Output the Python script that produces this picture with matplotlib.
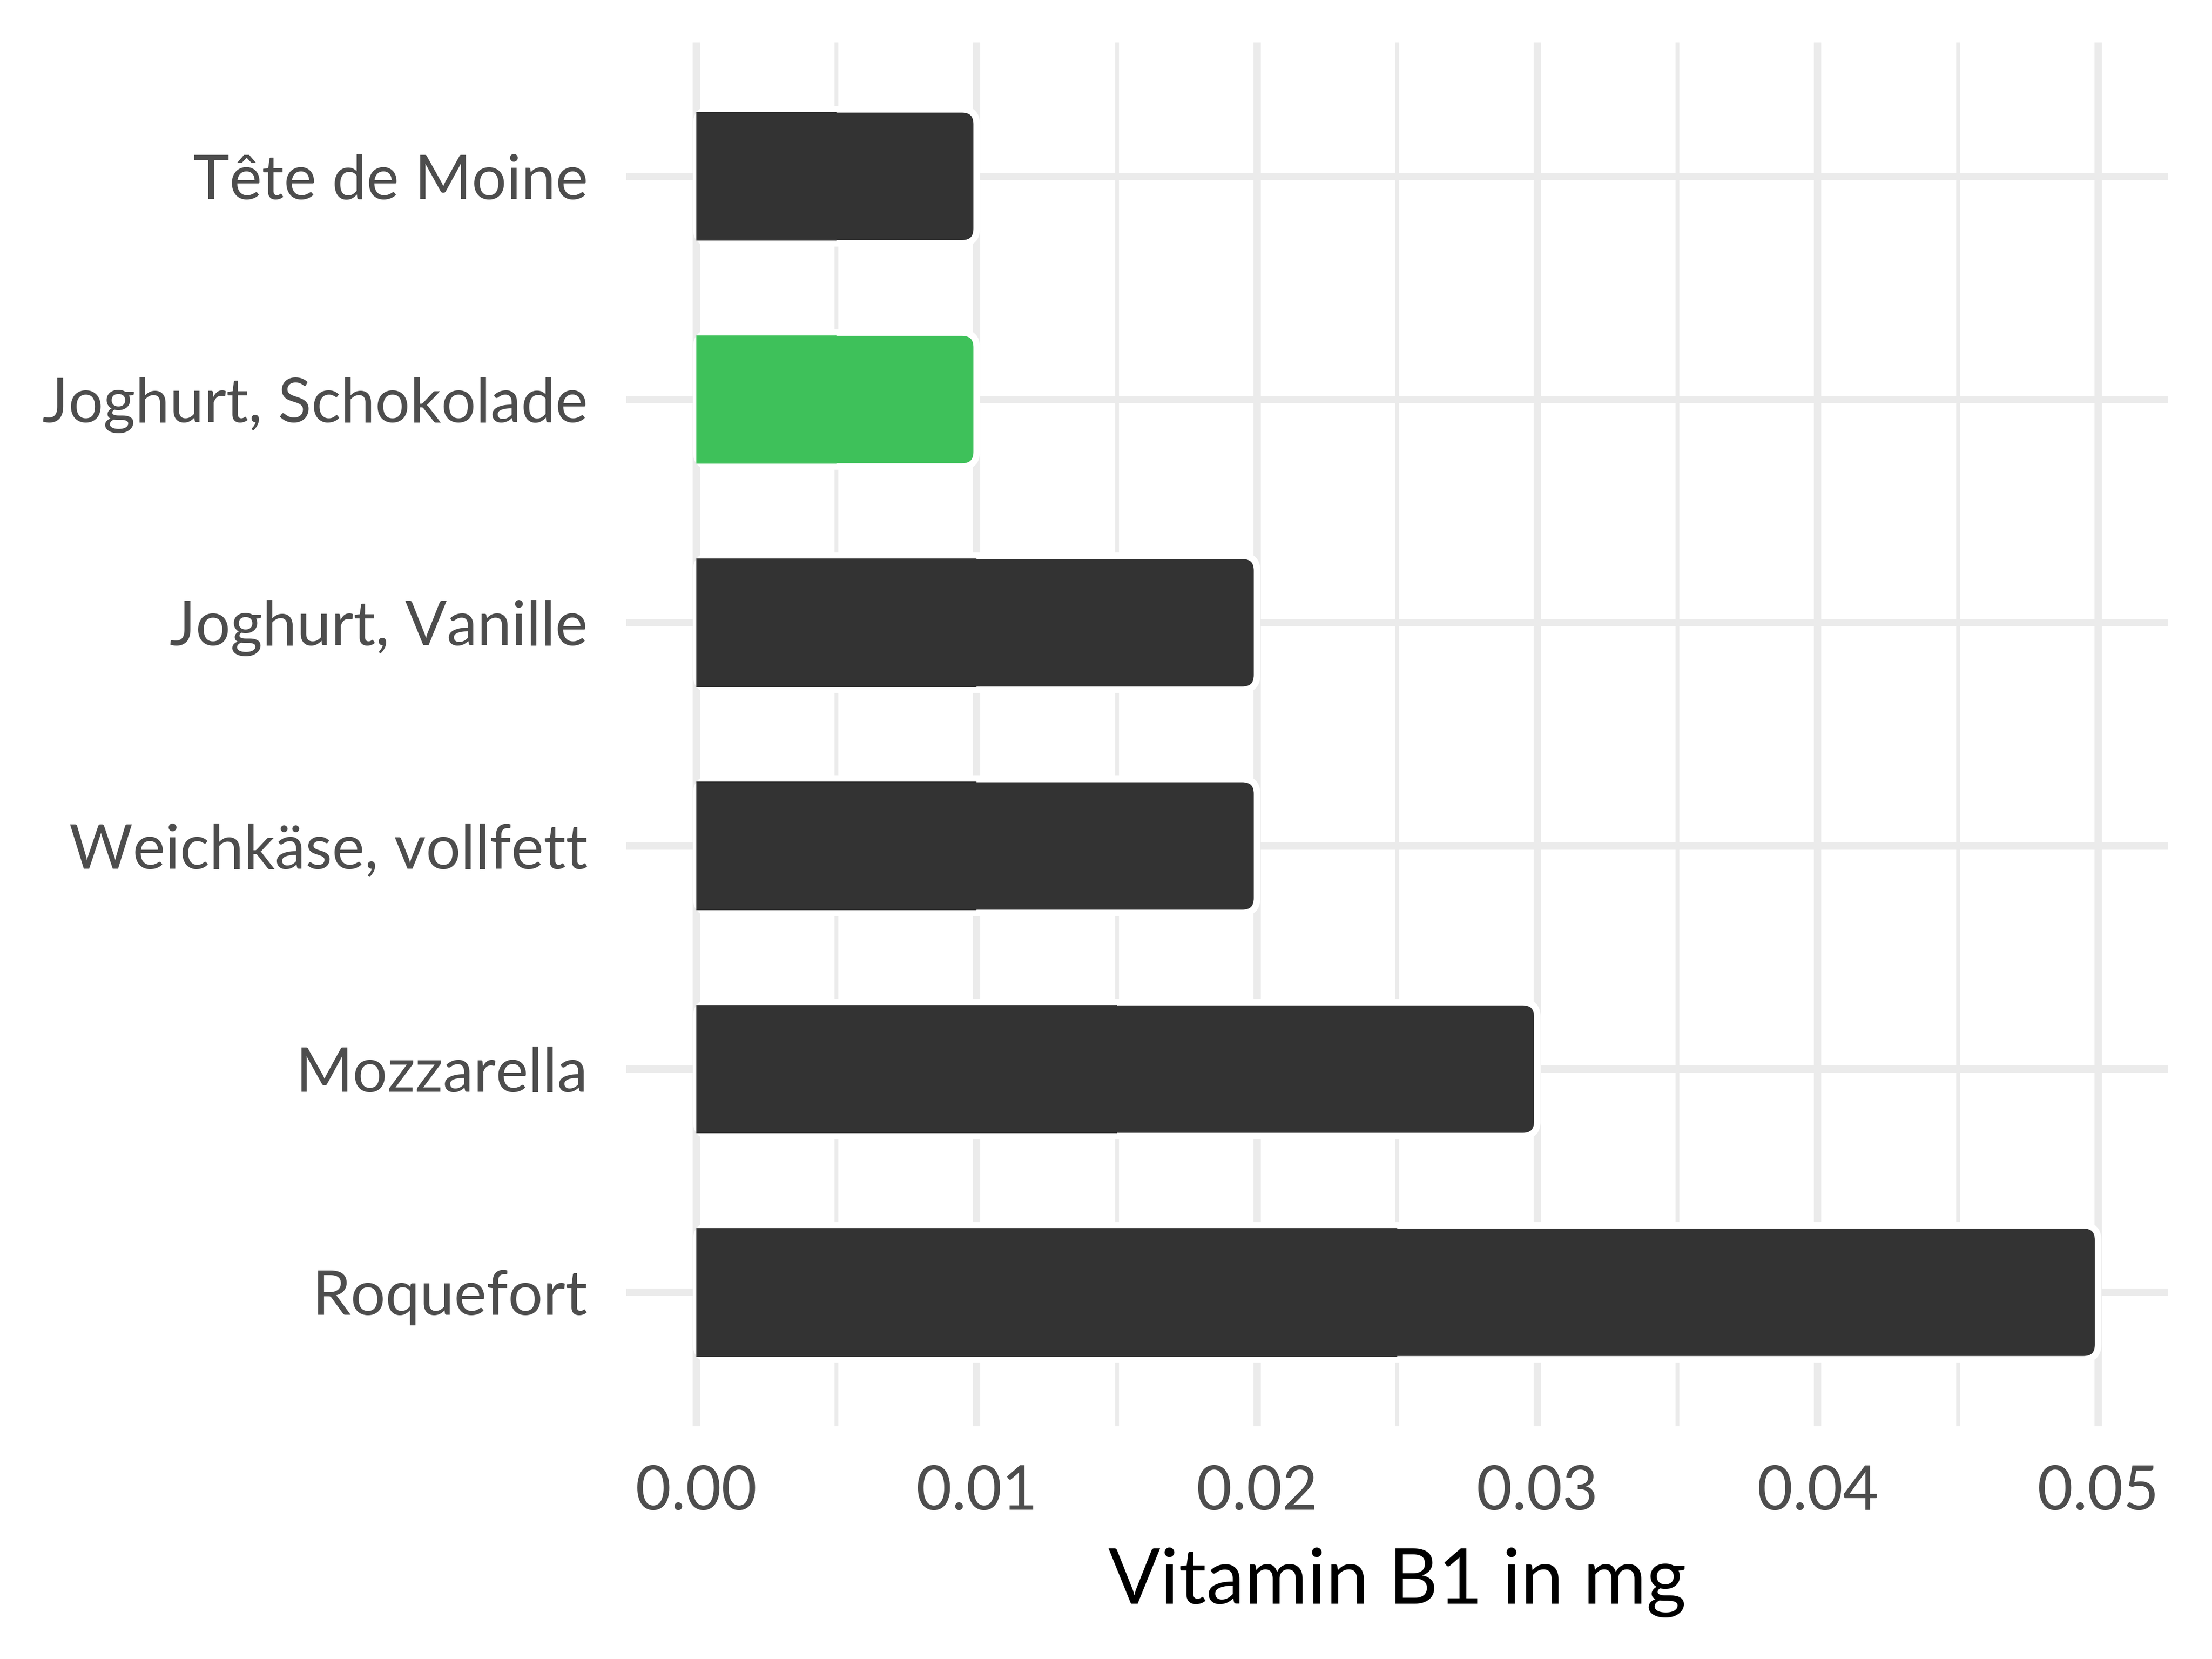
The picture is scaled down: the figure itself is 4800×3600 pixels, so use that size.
import matplotlib
matplotlib.use("Agg")
import matplotlib.pyplot as plt
from matplotlib.patches import FancyBboxPatch, Rectangle

# data, top to bottom as in the chart
foods = ["Tête de Moine", "Joghurt, Schokolade", "Joghurt, Vanille",
         "Weichkäse, vollfett", "Mozzarella", "Roquefort"]
vitamin_b1 = [0.01, 0.01, 0.02, 0.02, 0.03, 0.05]
highlight = "Joghurt, Schokolade"
x_ticks = [0.00, 0.01, 0.02, 0.03, 0.04, 0.05]
x_minor = [0.005, 0.015, 0.025, 0.035, 0.045]

DARK = "#333333"
GREEN = "#3EC15A"
GRID = "#EBEBEB"
FONT = "Lato"

plt.rcParams["font.family"] = [FONT, "DejaVu Sans"]

fig = plt.figure(figsize=(16, 12), dpi=300)
ax = fig.add_axes([0.2831, 0.1403, 0.6971, 0.8341])

xlim = (-0.0025, 0.0525)
ylim = (len(foods) + 0.6 - 1, -0.6)
ax.set_xlim(*xlim)
ax.set_ylim(*ylim)

# aspect so the rounded corners come out circular
fig_w, fig_h = fig.get_size_inches() * fig.dpi
pos = ax.get_position()
px_per_x = pos.width * fig_w / (xlim[1] - xlim[0])
px_per_y = pos.height * fig_h / abs(ylim[1] - ylim[0])
aspect = px_per_x / px_per_y
radius = 32 / px_per_x

bar_h = 0.6
inset = 6 / px_per_y
for i, (name, val) in enumerate(zip(foods, vitamin_b1)):
    col = GREEN if name == highlight else DARK
    box = FancyBboxPatch((0, i - bar_h / 2), val, bar_h,
                         boxstyle=f"round,pad=0,rounding_size={radius}",
                         mutation_aspect=aspect, facecolor=col,
                         edgecolor="white", linewidth=3.4, zorder=3)
    ax.add_patch(box)
    # square off the left end
    ax.add_patch(Rectangle((0, i - bar_h / 2 + inset), val / 2, bar_h - 2 * inset,
                           facecolor=col, edgecolor="none", zorder=3.5))

ax.set_yticks(range(len(foods)))
ax.set_yticklabels(foods)
ax.set_xticks(x_ticks)
ax.set_xticklabels([f"{t:.2f}" for t in x_ticks])
ax.set_xticks(x_minor, minor=True)

ax.grid(True, which="major", color=GRID, linewidth=3.8, zorder=0)
ax.grid(True, which="minor", axis="x", color=GRID, linewidth=2.0, zorder=0)
ax.set_axisbelow(True)

for s in ax.spines.values():
    s.set_visible(False)
ax.tick_params(axis="both", which="both", length=0)
ax.tick_params(axis="y", pad=20, labelsize=32, labelcolor="#4D4D4D")
ax.tick_params(axis="x", pad=20, labelsize=32, labelcolor="#4D4D4D")

ax.set_xlabel("Vitamin B1 in mg", fontsize=40, color="black", labelpad=14)

fig.savefig("out.png", dpi=300, facecolor="white")
